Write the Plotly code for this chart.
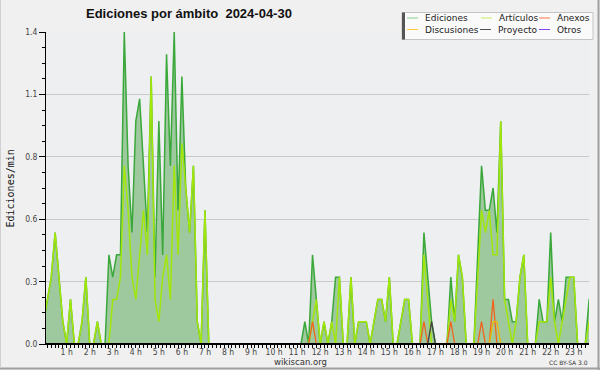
import plotly.graph_objects as go

# ---- data: edits per minute, one value per 10-minute slot (144 slots) ----
ediciones = [
    0.1, 0.2, 0.3, 0.5, 0.3, 0.1,   # 0 h
    0, 0.2, 0, 0, 0.1, 0.3,         # 1 h
    0, 0, 0.1, 0, 0, 0.4,           # 2 h
    0.3, 0.4, 0.4, 1.4, 0.8, 0.5,   # 3 h
    1.0, 1.1, 0.8, 0.5, 1.2, 0.3,   # 4 h
    1.0, 0.4, 1.3, 0.8, 1.4, 0.6,   # 5 h
    1.2, 0.7, 0.5, 0.8, 0.1, 0,     # 6 h
    0.6, 0, 0, 0, 0, 0,             # 7 h
    0, 0, 0, 0, 0, 0,               # 8 h
    0, 0, 0, 0, 0, 0,               # 9 h
    0, 0, 0, 0, 0, 0,               # 10 h
    0, 0, 0.1, 0, 0.4, 0.2,         # 11 h
    0, 0.1, 0, 0.1, 0.3, 0.3,       # 12 h
    0, 0, 0.3, 0, 0.1, 0.1,         # 13 h
    0.1, 0, 0.1, 0.2, 0.2, 0.1,     # 14 h
    0.3, 0, 0, 0.1, 0.2, 0.2,       # 15 h
    0, 0, 0, 0.5, 0.3, 0.1,         # 16 h
    0, 0, 0, 0, 0.3, 0.1,           # 17 h
    0.4, 0.3, 0, 0, 0, 0.4,         # 18 h
    0.8, 0.6, 0.6, 0.7, 0.5, 1.0,   # 19 h
    0.2, 0.2, 0.1, 0.1, 0.3, 0.4,   # 20 h
    0, 0, 0, 0.2, 0.1, 0.1,         # 21 h
    0.5, 0.1, 0.2, 0.1, 0.3, 0.3,   # 22 h
    0.3, 0, 0, 0, 0.2, 0.2,         # 23 h
]

articulos = [
    0.1, 0.2, 0.3, 0.5, 0.3, 0.1,
    0, 0.2, 0, 0, 0.1, 0.3,
    0, 0, 0.1, 0, 0, 0,
    0.2, 0.2, 0.3, 0.8, 0.6, 0.3,
    0.2, 0.4, 0.6, 0.4, 1.2, 0.2,
    0.1, 0.3, 0.4, 0.2, 0.8, 0.4,
    0.9, 0.7, 0.5, 0.8, 0.1, 0,
    0.6, 0, 0, 0, 0, 0,
    0, 0, 0, 0, 0, 0,
    0, 0, 0, 0, 0, 0,
    0, 0, 0, 0, 0, 0,
    0, 0, 0, 0, 0.1, 0.2,
    0, 0.1, 0, 0.1, 0, 0.3,
    0, 0, 0.3, 0, 0.1, 0.1,
    0.1, 0, 0.1, 0.2, 0.2, 0.1,
    0.3, 0, 0, 0.1, 0.2, 0.2,
    0, 0, 0, 0.4, 0.2, 0,
    0, 0, 0, 0, 0.2, 0.1,
    0.4, 0.3, 0, 0, 0, 0.3,
    0.6, 0.5, 0.6, 0.4, 0.4, 1.0,
    0.2, 0.1, 0, 0.1, 0.3, 0.4,
    0, 0, 0, 0.1, 0.1, 0.1,
    0.3, 0.1, 0, 0.1, 0.2, 0.3,
    0.3, 0, 0, 0, 0.1, 0.1,
]

# sparse series: slot index -> value (all other slots are 0)
anexos_slots = [70, 99, 106, 114, 117]
anexos_vals = [0.1, 0.1, 0.1, 0.1, 0.2]
discusiones_slots = [117, 118]
discusiones_vals = [0.1, 0.1]
proyecto_slots = [101]
proyecto_vals = [0.1]
otros_slots = []
otros_vals = []

y_tickvals = [0, 0.28, 0.56, 0.84, 1.12, 1.4]
y_ticktext = ["0.0", "0.3", "0.6", "0.8", "1.1", "1.4"]
hour_ticks = list(range(1, 24))
hour_labels = [f"{h} h" for h in hour_ticks]

SLOTS = len(ediciones)
hours = [k / 6 for k in range(SLOTS)]


def spread(slots, vals):
    arr = [0.0] * SLOTS
    for s, v in zip(slots, vals):
        arr[s] = v
    return arr


anexos = spread(anexos_slots, anexos_vals)
discusiones = spread(discusiones_slots, discusiones_vals)
proyecto = spread(proyecto_slots, proyecto_vals)
otros = spread(otros_slots, otros_vals)

fig = go.Figure()
fig.add_trace(go.Scatter(x=hours, y=ediciones, mode="lines", name="Ediciones",
                         fill="tozeroy", fillcolor="#9ec99e",
                         line=dict(color="#3aa83a", width=1.5)))
fig.add_trace(go.Scatter(x=hours, y=articulos, mode="lines", name="Artículos",
                         line=dict(color="#a2e60a", width=1.5)))
fig.add_trace(go.Scatter(x=hours, y=anexos, mode="lines", name="Anexos",
                         line=dict(color="#f0641e", width=1.3)))
fig.add_trace(go.Scatter(x=hours, y=discusiones, mode="lines", name="Discusiones",
                         line=dict(color="#f2b400", width=1.3)))
fig.add_trace(go.Scatter(x=hours, y=proyecto, mode="lines", name="Proyecto",
                         line=dict(color="#404040", width=1.3)))
fig.add_trace(go.Scatter(x=hours, y=otros, mode="lines", name="Otros",
                         line=dict(color="#8a3cf0", width=1.3)))

W, H = 600, 370
L, R, T, B = 46, 11, 32, 26
PW, PH = W - L - R, H - T - B


def px(xp):
    return (xp - L) / PW


def py(yp):
    return (H - B - yp) / PH


tick_font = dict(family="Liberation Sans Narrow, DejaVu Sans Condensed, sans-serif", size=8.5, color="#444")

fig.update_layout(
    width=W, height=H,
    margin=dict(l=L, r=R, t=T, b=B, pad=0),
    paper_bgcolor="#f0f0f0",
    plot_bgcolor="#eeeff1",
    showlegend=False,
    xaxis=dict(
        range=[0.104, 0.104 + PW / 23.05],
        tickmode="array", tickvals=hour_ticks, ticktext=hour_labels,
        ticks="outside", ticklen=3, tickcolor="black", tickwidth=1,
        showline=True, linecolor="black", linewidth=1,
        showgrid=False, zeroline=False,
        tickfont=tick_font, ticklabelstandoff=-3,
        minor=dict(tickmode="linear", tick0=0, dtick=1 / 6, ticks="outside",
                   ticklen=3, tickcolor="black", showgrid=False),
    ),
    yaxis=dict(
        range=[0, 1.4],
        tickmode="array", tickvals=y_tickvals, ticktext=y_ticktext,
        ticks="outside", ticklen=6, tickcolor="black", tickwidth=1,
        showline=True, linecolor="black", linewidth=1,
        showgrid=True, gridcolor="#c9c9c9", gridwidth=1,
        zeroline=False,
        tickfont=tick_font,
        minor=dict(tickmode="linear", tick0=0, dtick=0.07, ticks="outside",
                   ticklen=3, tickcolor="black", showgrid=False),
    ),
)

# baseline drawn over the zero-level lines
fig.add_shape(type="line", xref="paper", yref="y", x0=0, x1=1, y0=0, y1=0,
              line=dict(color="black", width=2), layer="above")

# outer frame
fig.add_shape(type="line", xref="paper", yref="paper", x0=px(598.5), x1=px(598.5),
              y0=py(0), y1=py(370), line=dict(color="#a0a0a0", width=2), layer="above")
fig.add_shape(type="line", xref="paper", yref="paper", x0=px(0), x1=px(600),
              y0=py(368.5), y1=py(368.5), line=dict(color="#a0a0a0", width=2), layer="above")
fig.add_shape(type="line", xref="paper", yref="paper", x0=px(0.5), x1=px(0.5),
              y0=py(0), y1=py(368), line=dict(color="#d0d0d0", width=1), layer="above")

# title, axis title, footer texts
fig.add_annotation(text="<b>Ediciones por ámbito \u00a02024-04-30</b>", xref="paper", yref="paper",
                   x=px(188.5), y=py(14), xanchor="center", yanchor="middle", showarrow=False,
                   font=dict(family="Liberation Sans, Arial, sans-serif", size=13, color="#111"))
fig.add_annotation(text="Ediciones/min", xref="paper", yref="paper", textangle=-90,
                   x=px(10), y=py(188.5), xanchor="center", yanchor="middle", showarrow=False,
                   font=dict(family="DejaVu Sans Mono, monospace", size=10, color="#111"))
fig.add_annotation(text="wikiscan.org", xref="paper", yref="paper",
                   x=px(300), y=py(362), xanchor="center", yanchor="middle", showarrow=False,
                   font=dict(family="DejaVu Sans, sans-serif", size=8.5, color="#333"))
fig.add_annotation(text="CC BY-SA 3.0", xref="paper", yref="paper",
                   x=px(590), y=py(362), xanchor="right", yanchor="middle", showarrow=False,
                   font=dict(family="DejaVu Sans, sans-serif", size=6, color="#333"))

# legend box (drawn manually to match the compact 3x2 layout)
fig.add_shape(type="rect", xref="paper", yref="paper", x0=px(402), x1=px(593),
              y0=py(39.5), y1=py(12.5), fillcolor="#fafafa",
              line=dict(color="#c4c4c4", width=1), layer="above")
fig.add_shape(type="rect", xref="paper", yref="paper", x0=px(402), x1=px(405),
              y0=py(39.5), y1=py(12.5), fillcolor="#555555",
              line=dict(width=0), layer="above")

legend_items = [
    ("Ediciones", "#88cc88", 407, 18),
    ("Artículos", "#c6ee5a", 481, 18),
    ("Anexos", "#ff7040", 539, 18),
    ("Discusiones", "#ffc840", 407, 29.5),
    ("Proyecto", "#505050", 480, 29.5),
    ("Otros", "#8844ee", 539, 29.5),
]
for name, color, x0, yy in legend_items:
    fig.add_shape(type="line", xref="paper", yref="paper", x0=px(x0), x1=px(x0 + 11),
                  y0=py(yy), y1=py(yy), line=dict(color=color, width=1), layer="above")
    fig.add_annotation(text=name, xref="paper", yref="paper", x=px(x0 + 16), y=py(yy),
                       xanchor="left", yanchor="middle", showarrow=False,
                       font=dict(family="DejaVu Sans, sans-serif", size=9, color="#222"))

fig.write_html("out.html", config={"displayModeBar": False},
               post_script="document.body.style.margin='0';")
